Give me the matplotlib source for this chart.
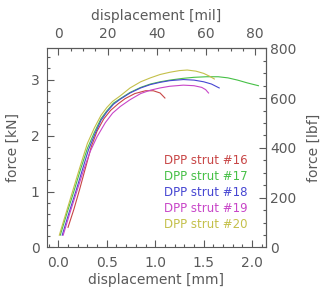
import numpy as np
import matplotlib
matplotlib.use("Agg")
import matplotlib.pyplot as plt
from matplotlib.ticker import MultipleLocator, FixedLocator, FormatStrFormatter

# struts: displacement [mm], force [kN]
labels = ["DPP strut #16", "DPP strut #17", "DPP strut #18", "DPP strut #19", "DPP strut #20"]
colors = ["#c84646", "#46c046", "#4646d2", "#c846c8", "#c4c04a"]

x16 = [0.10, 0.16, 0.22, 0.28, 0.34, 0.40, 0.47, 0.54, 0.62, 0.69, 0.79, 0.90, 0.98, 1.05, 1.10]
y16 = [0.36, 0.68, 1.04, 1.42, 1.80, 2.08, 2.30, 2.45, 2.57, 2.66, 2.75, 2.80, 2.80, 2.76, 2.67]

x17 = [0.02, 0.09, 0.16, 0.23, 0.30, 0.37, 0.44, 0.50, 0.57, 0.64, 0.74, 0.85, 0.95, 1.05,
	1.15, 1.28, 1.40, 1.53, 1.65, 1.75, 1.85, 1.95, 2.065]
y17 = [0.22, 0.62, 1.00, 1.40, 1.77, 2.05, 2.30, 2.44, 2.58, 2.66, 2.77, 2.86, 2.92, 2.96,
	2.99, 3.02, 3.04, 3.05, 3.05, 3.03, 2.99, 2.94, 2.89]

x18 = [0.04, 0.11, 0.18, 0.25, 0.31, 0.38, 0.44, 0.50, 0.57, 0.64, 0.74, 0.85, 0.95, 1.05,
	1.15, 1.29, 1.40, 1.50, 1.58, 1.66]
y18 = [0.22, 0.62, 1.00, 1.40, 1.74, 2.04, 2.27, 2.42, 2.56, 2.65, 2.76, 2.85, 2.91, 2.95,
	2.98, 3.00, 2.99, 2.96, 2.92, 2.85]

x19 = [0.05, 0.12, 0.19, 0.26, 0.33, 0.40, 0.485, 0.56, 0.64, 0.74, 0.85, 0.95, 1.05, 1.15,
	1.29, 1.40, 1.48, 1.52, 1.55]
y19 = [0.22, 0.62, 1.00, 1.38, 1.72, 1.98, 2.23, 2.40, 2.52, 2.64, 2.75, 2.81, 2.85, 2.88,
	2.90, 2.89, 2.86, 2.82, 2.76]

x20 = [0.01, 0.08, 0.15, 0.22, 0.30, 0.37, 0.44, 0.50, 0.56, 0.64, 0.74, 0.85, 0.95, 1.05,
	1.15, 1.25, 1.33, 1.42, 1.50, 1.56, 1.61]
y20 = [0.22, 0.62, 1.02, 1.42, 1.86, 2.13, 2.36, 2.50, 2.61, 2.71, 2.85, 2.96, 3.03, 3.09,
	3.13, 3.16, 3.17, 3.15, 3.11, 3.06, 3.01]

xs = [x16, x17, x18, x19, x20]
ys = [y16, y17, y18, y19, y20]

mm_ticks = [0.0, 0.5, 1.0, 1.5, 2.0]
kn_ticks = [0, 1, 2, 3]
mil_ticks = [0, 20, 40, 60, 80]
lbf_ticks = [0, 200, 400, 600, 800]

MM_PER_MIL = 0.0254
KN_PER_LBF = 4.44822e-3

grey = "#5a5a5a"
plt.rcParams["font.family"] = "DejaVu Sans"
plt.rcParams["font.size"] = 10

fig = plt.figure(figsize=(3.32, 2.98), dpi=100)
ax = fig.add_axes([0.1407, 0.1695, 0.6596, 0.6685])

for x, y, c in zip(xs, ys, colors):
	ax.plot(x, y, color=c, lw=0.8)

ax.set_xlim(-0.12, 2.14)
ax.set_ylim(0, 800 * KN_PER_LBF)

ax.xaxis.set_major_locator(FixedLocator(mm_ticks))
ax.xaxis.set_minor_locator(FixedLocator(np.arange(-0.1, 2.15, 0.1)))
ax.xaxis.set_major_formatter(FormatStrFormatter("%.1f"))
ax.yaxis.set_major_locator(FixedLocator(kn_ticks))
ax.yaxis.set_minor_locator(FixedLocator(np.arange(0.2, 3.55, 0.2)))

ax.set_xlabel("displacement [mm]", color=grey, labelpad=2)
ax.set_ylabel("force [kN]", color=grey, labelpad=8)

top = ax.secondary_xaxis("top", functions=(lambda v: v / MM_PER_MIL, lambda v: v * MM_PER_MIL))
top.xaxis.set_major_locator(FixedLocator(mil_ticks))
top.xaxis.set_minor_locator(FixedLocator(np.arange(0, 84, 5)))
top.set_xlabel("displacement [mil]", color=grey, labelpad=5)

right = ax.secondary_yaxis("right", functions=(lambda v: v / KN_PER_LBF, lambda v: v * KN_PER_LBF))
right.yaxis.set_major_locator(FixedLocator(lbf_ticks))
right.yaxis.set_minor_locator(FixedLocator(np.arange(50, 800, 50)))
right.set_ylabel("force [lbf]", color=grey, labelpad=8)

for a in (ax, top, right):
	a.tick_params(which="both", direction="in", colors=grey, labelcolor=grey)
	a.tick_params(which="major", length=5, width=0.8)
	a.tick_params(which="minor", length=2.5, width=0.8)
	for s in a.spines.values():
		s.set_color(grey)
		s.set_linewidth(0.8)
ax.tick_params(top=False, right=False, which="both")
ax.tick_params(axis="x", which="major", pad=6)
ax.tick_params(axis="y", which="major", pad=5)
top.tick_params(which="major", pad=5)
right.tick_params(which="major", pad=3)

for i, (lab, c) in enumerate(zip(labels, colors)):
	ax.text(0.919, 0.436 - i * 0.080, lab, color=c, transform=ax.transAxes,
		ha="right", va="center", fontsize=8.5)

fig.savefig("out.png", dpi=100)
